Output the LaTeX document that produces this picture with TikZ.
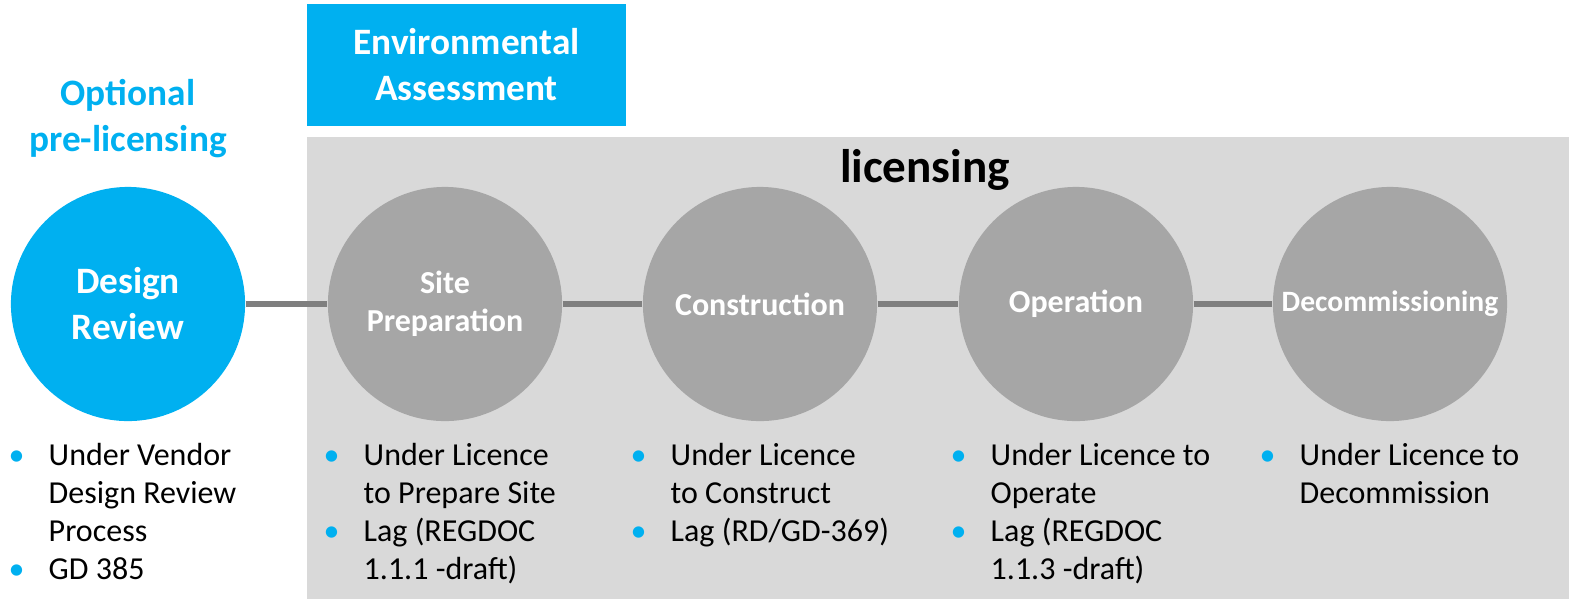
\documentclass[tikz,border=0pt]{standalone}
\usepackage{fontspec}
\setmainfont{Carlito}
\definecolor{bleu}{HTML}{00B0F0}
\definecolor{fond}{HTML}{D9D9D9}
\definecolor{disque}{HTML}{A6A6A6}
\definecolor{trait}{HTML}{7F7F7F}
% puce et retrait des listes
\newcommand{\puce}{\strut\makebox[0.4cm][l]{\textcolor{bleu}{\textbullet}}}
\newcommand{\suite}{\hspace*{0.4cm}}

\begin{document}
\begin{tikzpicture}[x=0.01cm,y=-0.01cm,
    etape/.style={circle,fill=disque,minimum size=2.34cm,inner sep=0pt,text=white,align=center,
        font=\bfseries\fontsize{9.1}{10.8}\selectfont},
    titre/.style={align=center,font=\bfseries\fontsize{10.6}{13.1}\selectfont},
    liste/.style={anchor=north west,inner sep=0pt,align=left,font=\fontsize{9.1}{10.8}\selectfont}]
    \useasboundingbox (0,0) rectangle (1569,599);

    % Cadre de la licence
    \fill[fond] (307,137) rectangle (1569,599);
    \node[font=\bfseries\fontsize{13.4}{16}\selectfont] (lic) at (925,170) {licensing};

    % Titres en haut
    \node[titre,fill=bleu,text=white,minimum width=3.19cm,minimum height=1.22cm] (ee) at (466.5,65) {Environmental\\Assessment};
    \node[titre,text=bleu] (opt) at (128,119) {Optional\\pre-licensing};

    % Etapes
    \node[etape,fill=bleu,font=\bfseries\fontsize{10.6}{13.1}\selectfont] (dr) at (128,304) {Design\\Review};
    \node[etape] (sp) at (445,304) {Site\\Preparation};
    \node[etape] (co) at (760,304) {Construction};
    \node[etape] (op) at (1076,304) {Operation};
    \node[etape,font=\bfseries\fontsize{8.4}{10.8}\selectfont] (de) at (1390,304) {Decommissioning};

    % Traits entre les etapes
    \foreach \a/\b in {dr/sp,sp/co,co/op,op/de}
        \draw[trait,line width=1.5pt] (\a) -- (\b);

    % Listes sous les etapes
    \node[liste] (ldr) at (8,438) {\puce Under Vendor\\\suite Design Review\\\suite Process\\\puce GD 385};
    \node[liste] (lsp) at (323,438) {\puce Under Licence\\\suite to Prepare Site\\\puce Lag (REGDOC\\\suite 1.1.1 -draft)};
    \node[liste] (lco) at (630,438) {\puce Under Licence\\\suite to Construct\\\puce Lag (RD/GD-369)};
    \node[liste] (lop) at (950,438) {\puce Under Licence to\\\suite Operate\\\puce Lag (REGDOC\\\suite 1.1.3 -draft)};
    \node[liste] (lde) at (1259,438) {\puce Under Licence to\\\suite Decommission};
\end{tikzpicture}
\end{document}
